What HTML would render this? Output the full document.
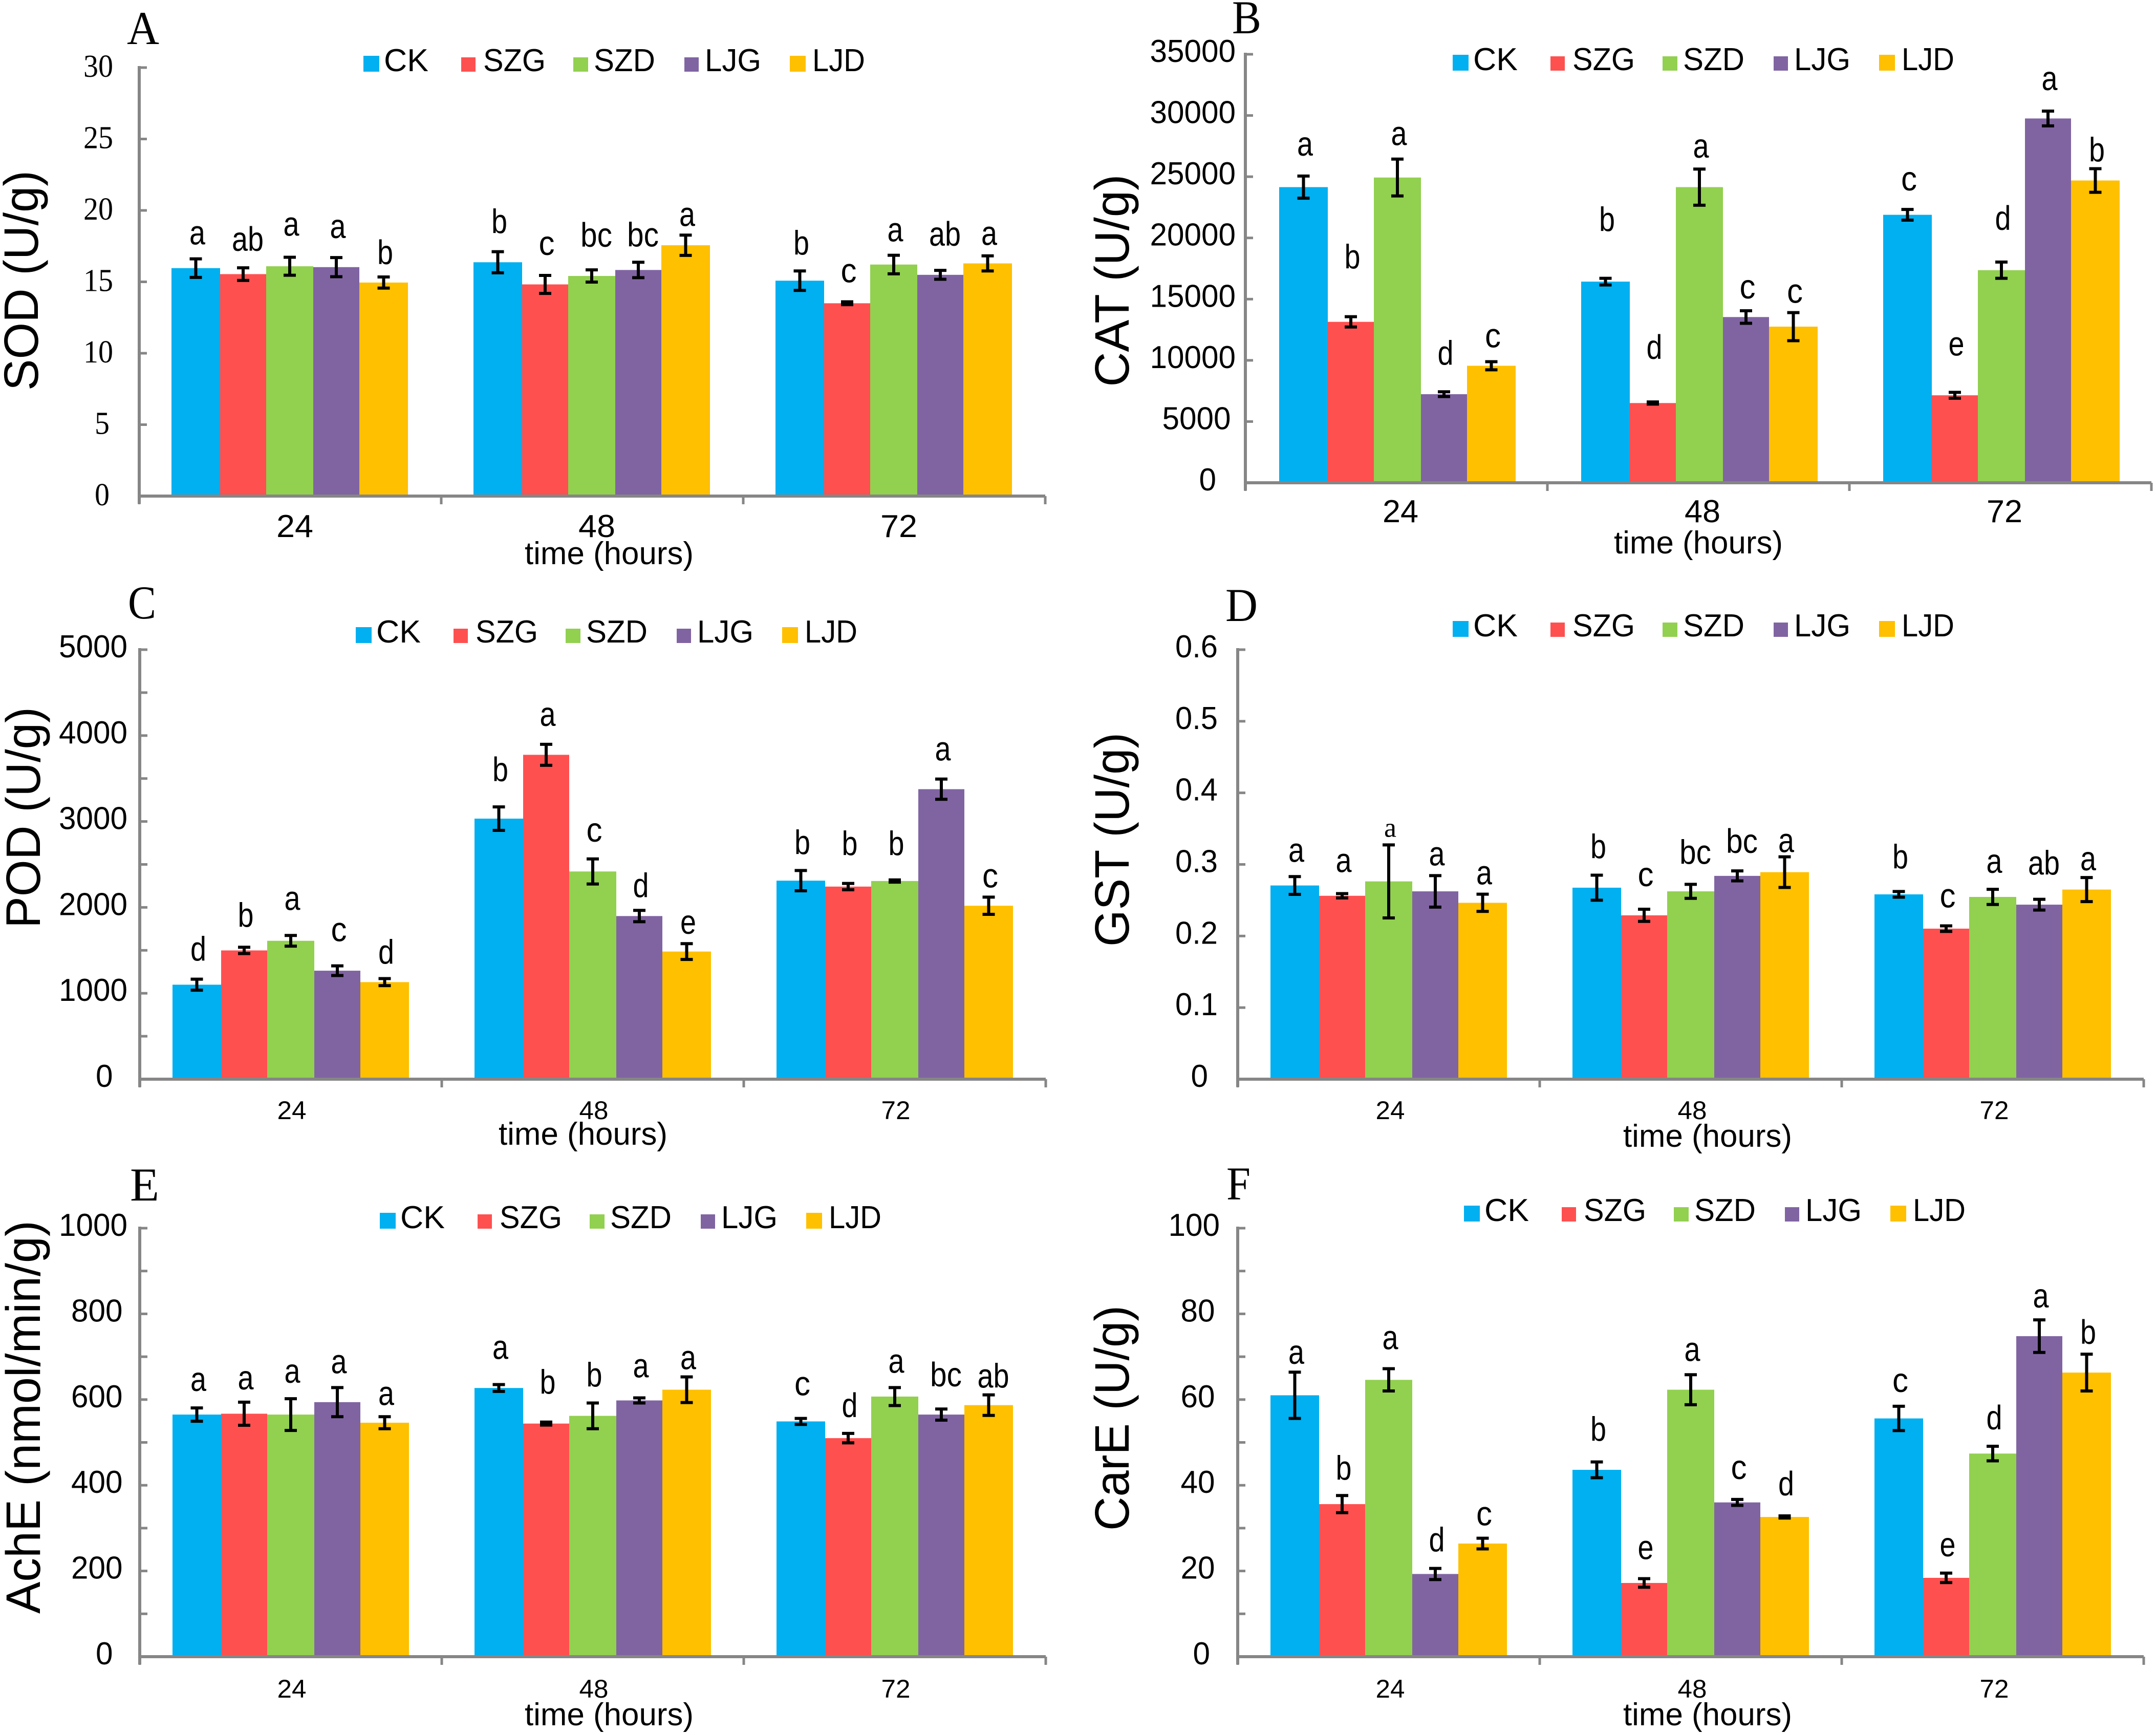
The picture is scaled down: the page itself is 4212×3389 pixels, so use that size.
<!DOCTYPE html>
<html lang="en">
<head>
<meta charset="utf-8">
<title>Enzyme activity over time</title>
<style>
html,body{margin:0;padding:0;background:#fff;width:4212px;height:3389px;overflow:hidden}
svg{display:block}
text{font-family:"Liberation Sans",Arial,sans-serif;fill:#000}
</style>
</head>
<body>
<svg id="figure" xmlns="http://www.w3.org/2000/svg" width="4212" height="3389" viewBox="0 0 4212 3389"></svg>
<script>
const categories = ['24', '48', '72'];
const seriesNames = ['CK', 'SZG', 'SZD', 'LJG', 'LJD'];

const sodTicks = ['0', '5', '10', '15', '20', '25', '30'];
const sodValues = [[15.96, 15.54, 16.09, 16.03, 14.95], [16.37, 14.82, 15.41, 15.83, 17.56], [15.08, 13.5, 16.21, 15.49, 16.29]];
const sodErrors = [[0.65, 0.44, 0.63, 0.67, 0.39], [0.74, 0.63, 0.43, 0.54, 0.71], [0.68, 0.1, 0.65, 0.31, 0.53]];
const sodLetters = [['a', 'ab', 'a', 'a', 'b'], ['b', 'c', 'bc', 'bc', 'a'], ['b', 'c', 'a', 'ab', 'a']];

const catTicks = ['0', '5000', '10000', '15000', '20000', '25000', '30000', '35000'];
const catValues = [[24148, 13144, 24932, 7235, 9557], [16430, 6512, 24148, 13536, 12752], [21887, 7145, 17365, 29756, 24691]];
const catErrors = [[904, 422, 1507, 196, 332], [271, 90, 1477, 512, 1146], [437, 241, 663, 603, 965]];
const catLetters = [['a', 'b', 'a', 'd', 'c'], ['b', 'd', 'a', 'c', 'c'], ['c', 'e', 'd', 'a', 'b']];

const podTicks = ['0', '1000', '2000', '3000', '4000', '5000'];
const podValues = [[1100, 1499, 1611, 1263, 1130], [3033, 3776, 2418, 1899, 1486], [2311, 2242, 2307, 3376, 2019]];
const podErrors = [[64, 37, 62, 56, 41], [137, 122, 146, 66, 92], [118, 37, 13, 118, 100]];
const podLetters = [['d', 'b', 'a', 'c', 'd'], ['b', 'a', 'c', 'd', 'e'], ['b', 'b', 'b', 'a', 'c']];

const gstTicks = ['0', '0.1', '0.2', '0.3', '0.4', '0.5', '0.6'];
const gstValues = [[0.2706, 0.2562, 0.2763, 0.2624, 0.2464], [0.2675, 0.2289, 0.2624, 0.284, 0.2892], [0.2582, 0.2103, 0.2546, 0.2438, 0.2649]];
const gstErrors = [[0.0124, 0.003, 0.051, 0.022, 0.012], [0.0175, 0.0085, 0.0098, 0.007, 0.0214], [0.004, 0.0039, 0.0106, 0.0075, 0.0168]];
const gstLetters = [['a', 'a', 'a', 'a', 'a'], ['b', 'c', 'bc', 'bc', 'a'], ['b', 'c', 'a', 'ab', 'a']];

const acheTicks = ['0', '200', '400', '600', '800', '1000'];
const acheValues = [[565, 567, 565, 594, 546], [627, 544, 562, 598, 623], [549, 510, 607, 565, 587]];
const acheErrors = [[15.5, 27, 37, 34, 14], [8, 3.5, 30, 6, 30], [7, 11, 21, 13, 24]];
const acheLetters = [['a', 'a', 'a', 'a', 'a'], ['a', 'b', 'b', 'a', 'a'], ['c', 'd', 'a', 'bc', 'ab']];

const careTicks = ['0', '20', '40', '60', '80', '100'];
const careValues = [[61, 35.6, 64.6, 19.3, 26.4], [43.6, 17.2, 62.3, 36, 32.6], [55.6, 18.4, 47.4, 74.8, 66.3]];
const careErrors = [[5.4, 2, 2.6, 1.3, 1.25], [1.85, 1, 3.5, 0.7, 0.25], [2.84, 1.1, 1.7, 3.8, 4.3]];
const careLetters = [['a', 'b', 'a', 'd', 'c'], ['b', 'e', 'a', 'c', 'd'], ['c', 'e', 'd', 'a', 'b']];

/* layout only, no data below this line */
const seriesColors = ['#00B0F0', '#FF5050', '#92D050', '#8064A2', '#FFC000'];
const barEdges = [0, 95, 185, 277, 367, 462];
const AXIS = '#868686';
const SERIF = '"Liberation Serif","Times New Roman",serif';

const panels = [
  {key:'sod', letter:'A', letterX:248, letterY:86, letterW:63, title:'SOD (U/g)', titleX:74, titleY:548, titleL:430,
   x0:272, y0:969, yTop:132, barOff:63, ticks:sodTicks, values:sodValues, errors:sodErrors, letters:sodLetters, minor:1,
   tickR:221, tickK:7, tickSerif:true, catDx:9, catY:1049, catFont:62, catW:72, timeX:1025, timeY:1102, legendX:710, legendY:139,
   lifts:[[28,33,42,38,25],[36,40,45,31,18],[32,38,27,48,21]]},
  {key:'cat', letter:'B', letterX:2407, letterY:65, letterW:57, title:'CAT (U/g)', titleX:2205, titleY:548, titleL:415,
   x0:2433, y0:943, yTop:106, barOff:66, ticks:catTicks, values:catValues, errors:catErrors, letters:catLetters, minor:1,
   tickR:2414, tickK:9.5, catDx:8, catY:1020, catFont:62, catW:70, timeX:3153, timeY:1081, legendX:2838, legendY:137,
   lifts:[[40,94,27,53,28],[92,84,22,24,19],[37,72,63,41,14]]},
  {key:'pod', letter:'C', letterX:250, letterY:1208, letterW:55, title:'POD (U/g)', titleX:78, titleY:1597, titleL:432,
   x0:273, y0:2108, yTop:1269, barOff:64, ticks:podTicks, values:podValues, errors:podErrors, letters:podLetters, minor:2,
   tickR:249, tickK:9.5, catDx:2, catY:2186, catFont:50, catW:57, timeX:974, timeY:2236, legendX:695, legendY:1255,
   lifts:[[36,40,50,48,29],[50,36,34,26,19],[32,55,48,36,19]]},
  {key:'gst', letter:'D', letterX:2394, letterY:1213, letterW:63, title:'GST (U/g)', titleX:2205, titleY:1640, titleL:418,
   x0:2418, y0:2108, yTop:1269, barOff:64, ticks:gstTicks, values:gstValues, errors:gstErrors, letters:gstLetters, minor:1,
   tickR:2379, tickK:9.5, catDx:3, catY:2186, catFont:50, catW:57, timeX:3171, timeY:2240, legendX:2838, legendY:1243,
   lifts:[[29,42,16,20,19],[33,45,40,35,9],[45,36,32,48,14]], serifLabel:[0,2]},
  {key:'ache', letter:'E', letterX:254, letterY:2345, letterW:57, title:'AchE (nmol/min/g)', titleX:78, titleY:2768, titleL:768,
   x0:273, y0:3236, yTop:2399, barOff:64, ticks:acheTicks, values:acheValues, errors:acheErrors, letters:acheLetters, minor:2,
   tickR:249, tickK:9.5, catDx:2, catY:3316, catFont:50, catW:57, timeX:1025, timeY:3370, legendX:742, legendY:2399,
   lifts:[[33,25,31,28,23],[50,55,32,40,15],[45,32,29,44,14]]},
  {key:'care', letter:'F', letterX:2396, letterY:2343, letterW:47, title:'CarE (U/g)', titleX:2205, titleY:2770, titleL:440,
   x0:2418, y0:3236, yTop:2399, barOff:64, ticks:careTicks, values:careValues, errors:careErrors, letters:careLetters, minor:2,
   tickR:2383, tickK:9.5, catDx:3, catY:3316, catFont:50, catW:57, timeX:3171, timeY:3370, legendX:2860, legendY:2385,
   lifts:[[16,31,38,33,25],[41,38,27,40,40],[28,33,33,24,20]]}
];

const GROUP_W = 590;
const svg = document.getElementById('figure');
const NS = 'http://www.w3.org/2000/svg';

function make(tag, parent, attrs) {
  const el = document.createElementNS(NS, tag);
  for (const k in attrs) el.setAttribute(k, attrs[k]);
  parent.appendChild(el);
  return el;
}

function makeText(parent, str, attrs) {
  const el = make('text', parent, attrs);
  el.textContent = str;
  return el;
}

function tickTextWidth(s, serif) {
  if (serif) return s.length * 29;
  let w = 0;
  for (const c of s) w += (c === '.') ? 16 : 33.5;
  return w;
}

panels.forEach(function (p) {
  const g = make('g', svg, {});
  
  

  const maxVal = parseFloat(p.ticks[p.ticks.length - 1]);
  const yScale = function (v) { return p.y0 - (v / maxVal) * (p.y0 - p.yTop); };
  const groupX = function (i) { return p.x0 + i * GROUP_W; };

  const panelLetter = makeText(g, p.letter, {x:p.letterX, y:p.letterY, 'font-size':92, textLength:p.letterW, lengthAdjust:'spacingAndGlyphs', style:'font-family:' + SERIF});
  
  

  const yTitle = makeText(g, p.title, {transform:'translate(' + p.titleX + ' ' + (p.titleY + p.titleL / 2) + ') rotate(-90)', x:0, y:0, 'font-size':95, textLength:p.titleL, lengthAdjust:'spacingAndGlyphs'});
  
  

  /* bars */
  p.values.forEach(function (groupVals, gi) {
    groupVals.forEach(function (v, si) {
      const left = groupX(gi) + p.barOff + barEdges[si];
      const w = barEdges[si + 1] - barEdges[si];
      const top = yScale(v);
      const bar = make('rect', g, {x:left, y:top, width:w, height:p.y0 - top, fill:seriesColors[si]});
      
      
    });
  });

  /* axes */
  const yAxis = make('rect', g, {x:p.x0 - 3, y:p.yTop - 3, width:6, height:p.y0 - p.yTop + 18, fill:AXIS});
  
  

  const xAxis = make('rect', g, {x:p.x0 - 3, y:p.y0 - 3, width:GROUP_W * 3 + 3, height:6, fill:AXIS});
  
  

  for (let i = 0; i <= categories.length; i++) {
    const tick = make('rect', g, {x:groupX(i) - 2.5, y:p.y0, width:5, height:16, fill:AXIS});
    
    
  }

  /* y ticks */
  const longest = Math.max.apply(null, p.ticks.map(function (t) { return t.length; }));
  const stepVal = parseFloat(p.ticks[1]) / p.minor;
  const nMarks = Math.round(maxVal / stepVal);
  for (let m = 1; m <= nMarks; m++) {
    const ty = yScale(m * stepVal);
    const mark = make('rect', g, {x:p.x0, y:ty - 2.5, width:15, height:5, fill:AXIS});
    
    
  }
  p.ticks.forEach(function (t) {
    const w = tickTextWidth(t, p.tickSerif);
    const right = p.tickR - p.tickK * (longest - t.length);
    const label = makeText(g, t, {x:right - w, y:yScale(parseFloat(t)) + (p.tickSerif ? 18 : 15), 'font-size':p.tickSerif ? 62 : 62, textLength:w, lengthAdjust:'spacingAndGlyphs', style:p.tickSerif ? 'font-family:' + SERIF : ''});
    
    
  });

  /* category labels */
  categories.forEach(function (c, i) {
    const cx = groupX(i) + GROUP_W / 2 + p.catDx;
    const label = makeText(g, c, {x:cx - p.catW / 2, y:p.catY, 'font-size':p.catFont, textLength:p.catW, lengthAdjust:'spacingAndGlyphs'});
    
    
  });
  const xTitle = makeText(g, 'time (hours)', {x:p.timeX, y:p.timeY, 'font-size':62, textLength:330, lengthAdjust:'spacingAndGlyphs'});
  
  

  /* error bars and significance letters */
  p.values.forEach(function (groupVals, gi) {
    groupVals.forEach(function (v, si) {
      const cx = groupX(gi) + p.barOff + (barEdges[si] + barEdges[si + 1]) / 2;
      const e = p.errors[gi][si];
      const yHi = yScale(v + e);
      const yLo = yScale(v - e);
      const err = make('path', g, {d:'M' + (cx - 12) + ' ' + yHi + 'H' + (cx + 12) + 'M' + cx + ' ' + yHi + 'V' + yLo + 'M' + (cx - 12) + ' ' + yLo + 'H' + (cx + 12), stroke:'#000', 'stroke-width':6, fill:'none'});
      
      

      const str = p.letters[gi][si];
      const isSerif = p.serifLabel && p.serifLabel[0] === gi && p.serifLabel[1] === si;
      const lx = cx + (str.length > 1 ? 9 : 3);
      const lw = str.length * 31;
      const sig = makeText(g, str, {x:lx - (isSerif ? 12 : lw / 2), y:yHi - p.lifts[gi][si], 'font-size':isSerif ? 54 : 67, textLength:isSerif ? 24 : lw, lengthAdjust:'spacingAndGlyphs', style:isSerif ? 'font-family:' + SERIF : ''});
      
      
    });
  });

  /* legend */
  const swatchX = [0, 191, 410, 627, 833];
  const swatchW = [31, 28, 29, 28, 31];
  const labelX = [40, 234, 450, 667, 877];
  const labelW = [87, 122, 120, 110, 103];
  seriesNames.forEach(function (name, i) {
    const entry = make('g', g, {});
    
    
    const h = (i === 0 || i === 4) ? 31 : 28;
    make('rect', entry, {x:p.legendX + swatchX[i], y:p.legendY + 1 - h, width:swatchW[i], height:h, fill:seriesColors[i]});
    makeText(entry, name, {x:p.legendX + labelX[i], y:p.legendY, 'font-size':62, textLength:labelW[i], lengthAdjust:'spacingAndGlyphs'});
  });
});
</script>
</body>
</html>
